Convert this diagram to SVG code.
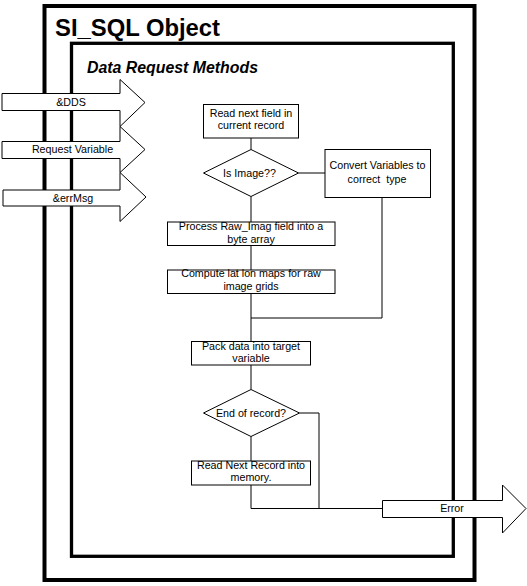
<svg xmlns="http://www.w3.org/2000/svg" width="527" height="586" viewBox="0 0 527 586">
<style>
  .frame { fill: none; stroke: #000; }
  .arrow { fill: #fff; stroke: #000; stroke-width: 1; }
  .box { fill: #fff; stroke: #000; stroke-width: 1; }
  .conn { fill: none; stroke: #000; stroke-width: 1; }
  .t { font-family: "Liberation Sans", Arial, sans-serif; font-size: 10.7px; fill: #000; text-anchor: middle; }
  .title { font-family: "Liberation Sans", Arial, sans-serif; font-size: 23px; font-weight: bold; fill: #000; }
  .sub { font-family: "Liberation Sans", Arial, sans-serif; font-size: 16px; font-weight: bold; font-style: italic; fill: #000; }
</style>
<rect width="527" height="586" fill="#fff"/>
<g id="outer-frame">
  <rect class="frame" x="44.5" y="6" width="430" height="574" stroke-width="4"/>
  <text class="title" x="55" y="36" textLength="165" lengthAdjust="spacingAndGlyphs">SI_SQL Object</text>
</g>
<g id="inner-frame">
  <rect class="frame" x="71.5" y="43.3" width="381.8" height="513" stroke-width="3.3"/>
  <text class="sub" x="87" y="72.7" textLength="171" lengthAdjust="spacingAndGlyphs">Data Request Methods</text>
</g>
<g id="connectors">
  <path class="conn" d="M251,138 V149.5"/>
  <path class="conn" d="M298.5,173 H325"/>
  <path class="conn" d="M251,196.5 V222"/>
  <path class="conn" d="M251,245.5 V270"/>
  <path class="conn" d="M251,293.5 V341.5"/>
  <path class="conn" d="M251,318 H382 V197.5"/>
  <path class="conn" d="M251,365 V389.5"/>
  <path class="conn" d="M251,436.5 V461"/>
  <path class="conn" d="M299.5,413 H319 V508.5"/>
  <path class="conn" d="M251,485 V508.5 H382.5"/>
</g>
<g id="in-dds">
  <polygon class="arrow" points="2,93.5 120,93.5 120,79.5 145,102.5 120,126.5 120,110.5 2,110.5"/>
  <text class="t" x="71" y="105.5">&amp;DDS</text>
</g>
<g id="in-request-variable">
  <polygon class="arrow" points="2,141.5 120,141.5 120,126.5 145,149.5 120,172.5 120,158.5 2,158.5"/>
  <text class="t" x="72.5" y="153.3">Request Variable</text>
</g>
<g id="in-errmsg">
  <polygon class="arrow" points="3,190 120,190 120,172.5 146,197 120,221.5 120,206 3,206"/>
  <text class="t" x="73" y="201.5">&amp;errMsg</text>
</g>
<g id="out-error">
  <polygon class="arrow" points="382.5,500.5 502.5,500.5 502.5,485 526,508.5 502.5,533 502.5,517.5 382.5,517.5"/>
  <text class="t" x="452" y="512">Error</text>
</g>
<g id="read-field">
  <rect class="box" x="203.5" y="104.5" width="95" height="33.5"/>
  <text class="t" x="251" y="116.5">Read next field in</text>
  <text class="t" x="251" y="128.5">current record</text>
</g>
<g id="is-image">
  <polygon class="box" points="251,149.5 298.5,173 251,196.5 203.5,173"/>
  <text class="t" x="249.5" y="177">Is Image??</text>
</g>
<g id="convert">
  <rect class="box" x="325" y="149.5" width="105.5" height="48"/>
  <text class="t" x="377.5" y="169.3">Convert Variables to</text>
  <text class="t" x="377" y="182.7" xml:space="preserve">correct  type</text>
</g>
<g id="process-raw">
  <rect class="box" x="167.5" y="222" width="167.5" height="23.5"/>
  <text class="t" x="251" y="230">Process Raw_Imag field into a</text>
  <text class="t" x="251" y="242.5">byte array</text>
</g>
<g id="compute-latlon">
  <rect class="box" x="167.5" y="270" width="167.5" height="23.5"/>
  <text class="t" x="251" y="277">Compute lat lon maps for raw</text>
  <text class="t" x="251" y="289.5">image grids</text>
</g>
<g id="pack-data">
  <rect class="box" x="191.5" y="341.5" width="119" height="23.5"/>
  <text class="t" x="251" y="350">Pack data into target</text>
  <text class="t" x="251" y="362">variable</text>
</g>
<g id="end-of-record">
  <polygon class="box" points="251,389.5 299.5,413 251,436.5 203.5,413"/>
  <text class="t" x="251" y="416.5">End of record?</text>
</g>
<g id="read-next-record">
  <rect class="box" x="191.5" y="461" width="119" height="24"/>
  <text class="t" x="251" y="468.5">Read Next Record into</text>
  <text class="t" x="251" y="481">memory.</text>
</g>
</svg>
